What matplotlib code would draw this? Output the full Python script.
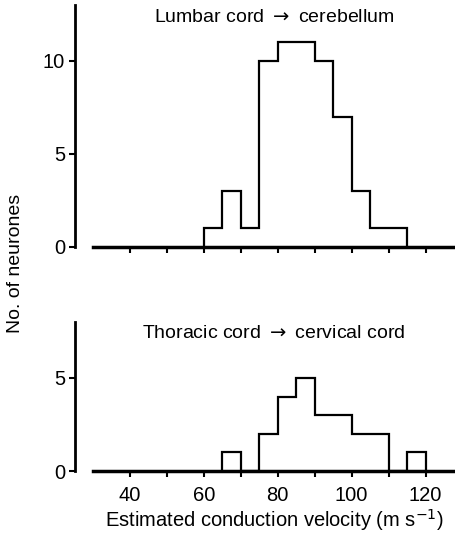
import matplotlib
matplotlib.use("Agg")
import matplotlib.pyplot as plt

plt.rcParams["font.family"] = ["Liberation Sans", "DejaVu Sans"]

# bin edges (m/s) and counts
top_edges = [60, 65, 70, 75, 80, 85, 90, 95, 100, 105, 110, 115]
top_counts = [1, 3, 1, 10, 11, 11, 10, 7, 3, 1, 1]
bottom_edges = [65, 70, 75, 80, 85, 90, 95, 100, 105, 110, 115, 120]
bottom_counts = [1, 0, 2, 4, 5, 3, 3, 2, 2, 0, 1]

top_title = "Lumbar cord $\\rightarrow$ cerebellum"
bottom_title = "Thoracic cord $\\rightarrow$ cervical cord"
x_ticks = [40, 50, 60, 70, 80, 90, 100, 110, 120]
x_labels = ["40", "", "60", "", "80", "", "100", "", "120"]

fig = plt.figure(figsize=(4.56, 5.33), dpi=100)
ax1 = fig.add_axes([0.204, 0.5366, 0.794, 0.454])
ax2 = fig.add_axes([0.204, 0.1163, 0.794, 0.2795])


def style(ax, counts, edges, ytop, yticks, title, title_y, show_labels):
    ax.stairs(counts, edges, color="black", lw=1.6, baseline=0)
    ax.set_xlim(30, 128)
    ax.set_ylim(0, ytop)
    for s in ["top", "right"]:
        ax.spines[s].set_visible(False)
    ax.spines["left"].set_position(("outward", 13))
    ax.spines["left"].set_linewidth(2)
    ax.spines["bottom"].set_linewidth(2.5)
    ax.set_yticks(yticks)
    ax.set_xticks(x_ticks)
    ax.set_xticklabels(x_labels if show_labels else [""] * len(x_ticks))
    ax.tick_params(axis="both", direction="out", width=1.5, length=4,
                   labelsize=14.5, pad=3)
    ax.tick_params(axis="x", pad=7)
    ax.text(0.5, title_y, title, transform=ax.transAxes, ha="center",
            va="center", fontsize=14,
            math_fontfamily="dejavusans")


style(ax1, top_counts, top_edges, 13, [0, 5, 10], top_title, 0.95, False)
style(ax2, bottom_counts, bottom_edges, 8, [0, 5], bottom_title, 0.926, True)

ax2.set_xlabel("Estimated conduction velocity (m s$^{-1}$)", fontsize=14.5,
               labelpad=1)
fig.text(0.033, 0.505, "No. of neurones", rotation=90, ha="center",
         va="center", fontsize=14)

fig.savefig("out.png", dpi=100)
